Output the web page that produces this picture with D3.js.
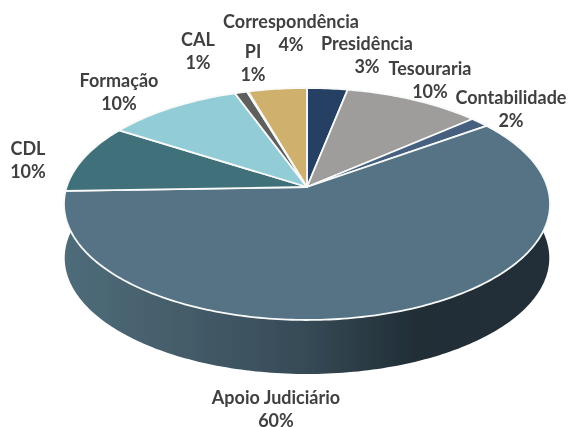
<!DOCTYPE html>
<html><head><meta charset="utf-8">
<script src="https://cdn.jsdelivr.net/npm/d3@7"></script>
<style>html,body{margin:0;background:#fff}svg{display:block}</style></head>
<body><div id="c"></div>
<script>
const categories=["Presidência","Tesouraria","Contabilidade","Apoio Judiciário","CDL","Formação","CAL","PI","Correspondência"];
const values=[3.1,10.5,1.45,59.4,9.6,10.4,0.95,0.1,4.5];
const percentLabels=["3%","10%","2%","60%","10%","10%","1%","1%","4%"];
const sliceColors=["#253f63","#9e9d9b","#46617f","#557385","#40707a","#92ccd6","#5f5f5d","#ffffff","#cfb06d"];
const labelX=[367,430,511,276,28,119,198,253,291];
const labelY=[50,75,104,404,155,87,46,58,28];

const W=569,H=427;
const svg=d3.select("#c").append("svg").attr("width",W).attr("height",H);
const defs=svg.append("defs");
defs.append("filter").attr("id","soft").append("feGaussianBlur").attr("stdDeviation",0.45);
const grad=defs.append("linearGradient").attr("id","side").attr("x1","0").attr("x2","1").attr("y1","0").attr("y2","0");
[[0,"#4f6c7a"],[0.25,"#445c69"],[0.5,"#364a56"],[0.72,"#212e36"],[1,"#222f37"]].forEach(s=>grad.append("stop").attr("offset",s[0]).attr("stop-color",s[1]));

const cx=307,apexY=187,k=0.1465,A=240.4,B=113.5;
const proj=a=>{const u=Math.sin(a),v=-Math.cos(a),w=1-k*v;return [cx+A*u/w,apexY+B*v/w];};
const pie=d3.pie().sort(null).value(d=>d)(values);
const line=d3.line();
const g=svg.append("g").attr("filter","url(#soft)");

// side wall
const depth=54;
const arcPts=d3.range(0,181).map(i=>{const a=Math.PI/2-0.08+(Math.PI+0.16)*i/180;return proj(a);});
const bottomPts=arcPts.map(p=>[cx+(p[0]-cx)*0.997,p[1]+depth]);
g.append("path").attr("d",line(arcPts.concat(bottomPts.reverse()))+"Z").attr("fill","url(#side)");

// top slices
pie.forEach((d,i)=>{
  const n=Math.max(4,Math.ceil((d.endAngle-d.startAngle)*60));
  const pts=[[cx,apexY]].concat(d3.range(n+1).map(j=>proj(d.startAngle+(d.endAngle-d.startAngle)*j/n)));
  g.append("path").attr("d",line(pts)+"Z").attr("fill",sliceColors[i]).attr("stroke","#f8f9f9").attr("stroke-width",1.8).attr("stroke-linejoin","round");
});

// labels
const t=svg.append("g").attr("filter","url(#soft)").attr("font-family","Lato, 'Open Sans', sans-serif").attr("font-weight",700).attr("font-size",18).attr("fill","#404040").attr("text-anchor","middle");
categories.forEach((c,i)=>{
  const txt=t.append("text").attr("x",labelX[i]).attr("y",labelY[i]);
  txt.append("tspan").attr("x",labelX[i]).text(c);
  txt.append("tspan").attr("x",labelX[i]).attr("dy",22.5).text(percentLabels[i]);
});
</script></body></html>
